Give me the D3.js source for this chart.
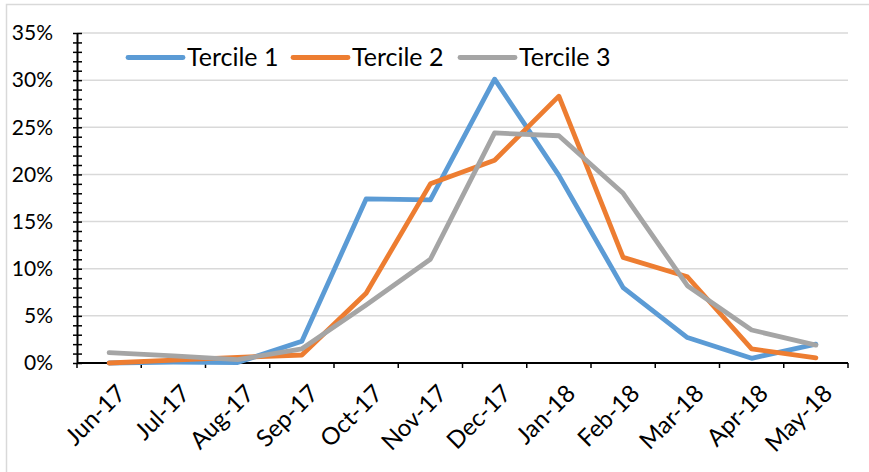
<!DOCTYPE html>
<html>
<head>
<meta charset="utf-8">
<script src="https://cdn.jsdelivr.net/npm/d3@7"></script>
<style>
  body { margin: 0; background: #fff; }
  svg { display: block; font-family: Lato, "Liberation Sans", sans-serif; }
</style>
</head>
<body>
<svg></svg>
<script>
const size = {w: 869, h: 472};
const margin = {t: 33, r: 21, b: 109, l: 77};
const svg = d3.select('svg').attr('width', size.w).attr('height', size.h);

// data
const months = ['Jun-17', 'Jul-17', 'Aug-17', 'Sep-17', 'Oct-17', 'Nov-17',
                'Dec-17', 'Jan-18', 'Feb-18', 'Mar-18', 'Apr-18', 'May-18'];
const tercile1 = [0.0, 0.1, 0.05, 2.3, 17.4, 17.3, 30.1, 19.9, 8.0, 2.7, 0.5, 2.0];
const tercile2 = [0.0, 0.3, 0.6, 0.85, 7.4, 19.0, 21.5, 28.3, 11.2, 9.15, 1.5, 0.55];
const tercile3 = [1.1, 0.75, 0.35, 1.5, 6.15, 11.0, 24.4, 24.1, 18.0, 8.2, 3.5, 1.9];
const seriesNames = ['Tercile 1', 'Tercile 2', 'Tercile 3'];
const seriesColors = ['#5B9BD5', '#ED7D31', '#A5A5A5'];
const yTicks = [0, 5, 10, 15, 20, 25, 30, 35];

const series = [tercile1, tercile2, tercile3].map((vals, i) => ({
    name: seriesNames[i], color: seriesColors[i], values: vals
}));

// outer chart frame
svg.append('rect')
    .attr('x', 6.5).attr('y', 4.5)
    .attr('width', size.w + 10).attr('height', size.h + 10)
    .attr('fill', 'none').attr('stroke', '#d9d9d9').attr('stroke-width', 1.5);

const x = d3.scaleBand()
    .domain(months)
    .range([margin.l, size.w - margin.r]);

const y = d3.scaleLinear()
    .domain([0, 35])
    .range([size.h - margin.b, margin.t]);

// gridlines
svg.append('g').classed('grid', true)
    .selectAll('line')
    .data(yTicks.filter(d => d > 0))
    .join('line')
    .attr('x1', margin.l).attr('x2', size.w - margin.r)
    .attr('y1', d => y(d)).attr('y2', d => y(d))
    .attr('stroke', '#d9d9d9').attr('stroke-width', 1.5);

// y axis: majors every 5%, minor every 1%
const yAxisG = svg.append('g').attr('transform', `translate(${margin.l},0)`);
yAxisG.append('g')
    .call(d3.axisLeft(y).tickValues(d3.range(0, 36, 1)).tickSize(5).tickSizeOuter(0).tickFormat(''))
    .call(g => g.selectAll('.tick line').attr('x2', -4).attr('x1', 5).attr('stroke', '#000').attr('stroke-width', 1.5))
    .call(g => g.select('.domain').attr('stroke', '#000').attr('stroke-width', 2));
yAxisG.selectAll('text.ylab')
    .data(yTicks)
    .join('text')
    .classed('ylab', true)
    .attr('x', -24)
    .attr('y', d => y(d))
    .attr('dy', '0.35em')
    .attr('text-anchor', 'end')
    .attr('font-size', 21)
    .attr('fill', '#000')
    .text(d => d + '%');

// x axis with ticks between categories
const xAxisG = svg.append('g').attr('transform', `translate(0,${y(0)})`);
const bounds = months.map(m => x(m)).concat([x.range()[1]]);
xAxisG.append('line')
    .attr('x1', margin.l).attr('x2', size.w - margin.r)
    .attr('stroke', '#000').attr('stroke-width', 2);
xAxisG.selectAll('line.tk')
    .data(bounds)
    .join('line')
    .classed('tk', true)
    .attr('x1', d => d).attr('x2', d => d)
    .attr('y1', 0).attr('y2', 5)
    .attr('stroke', '#000').attr('stroke-width', 1.5);
xAxisG.selectAll('text')
    .data(months)
    .join('text')
    .attr('text-anchor', 'end')
    .attr('font-size', 24)
    .attr('fill', '#000')
    .attr('transform', d => `translate(${x(d) + x.bandwidth() / 2 + 6},${20}) rotate(-45)`)
    .attr('dy', '0.7em')
    .text(d => d);

// lines
const line = d3.line()
    .x((d, i) => x(months[i]) + x.bandwidth() / 2)
    .y(d => y(d));

svg.append('g').classed('lines', true)
    .selectAll('path')
    .data(series)
    .join('path')
    .attr('d', d => line(d.values))
    .attr('fill', 'none')
    .attr('stroke', d => d.color)
    .attr('stroke-width', 4.8)
    .attr('stroke-linejoin', 'round')
    .attr('stroke-linecap', 'round');

// legend
const legendX = [128, 293, 460];
const legendG = svg.append('g').attr('transform', 'translate(0,57.5)');
const item = legendG.selectAll('g')
    .data(series)
    .join('g')
    .attr('transform', (d, i) => `translate(${legendX[i]},0)`);
item.append('line')
    .attr('x1', 0).attr('x2', 55)
    .attr('stroke', d => d.color)
    .attr('stroke-width', 4.8)
    .attr('stroke-linecap', 'round');
item.append('text')
    .attr('x', 59)
    .attr('dy', '0.35em')
    .attr('font-size', 25)
    .attr('fill', '#000')
    .text(d => d.name);
</script>
</body>
</html>
